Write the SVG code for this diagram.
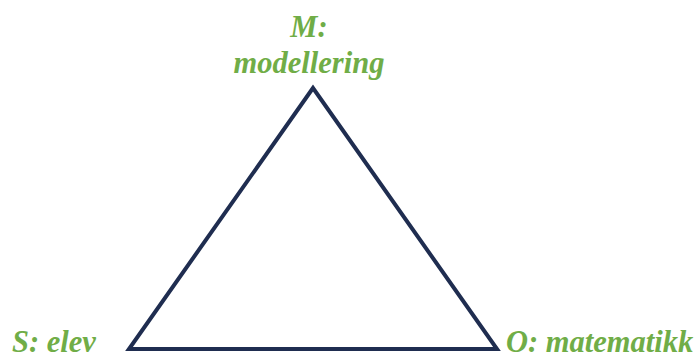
<svg xmlns="http://www.w3.org/2000/svg" width="698" height="360" viewBox="0 0 698 360">
<style>
.lbl{font-family:"Liberation Serif","Times New Roman",serif;font-weight:bold;font-style:italic;font-size:30.5px;fill:#70AD47}
.edge{fill:none;stroke:#1F2D50;stroke-width:4;stroke-linejoin:miter}
</style>
<rect width="698" height="360" fill="#fff"/>
<g id="connectors">
<polygon class="edge" points="313,88 129,349 497,349"/>
</g>
<g id="node-M">
<text class="lbl" x="309" y="37" text-anchor="middle">M:</text>
<text class="lbl" x="309" y="73" text-anchor="middle">modellering</text>
</g>
<g id="node-S">
<text class="lbl" x="12" y="352">S: elev</text>
</g>
<g id="node-O">
<text class="lbl" x="506" y="352">O: matematikk</text>
</g>
</svg>
